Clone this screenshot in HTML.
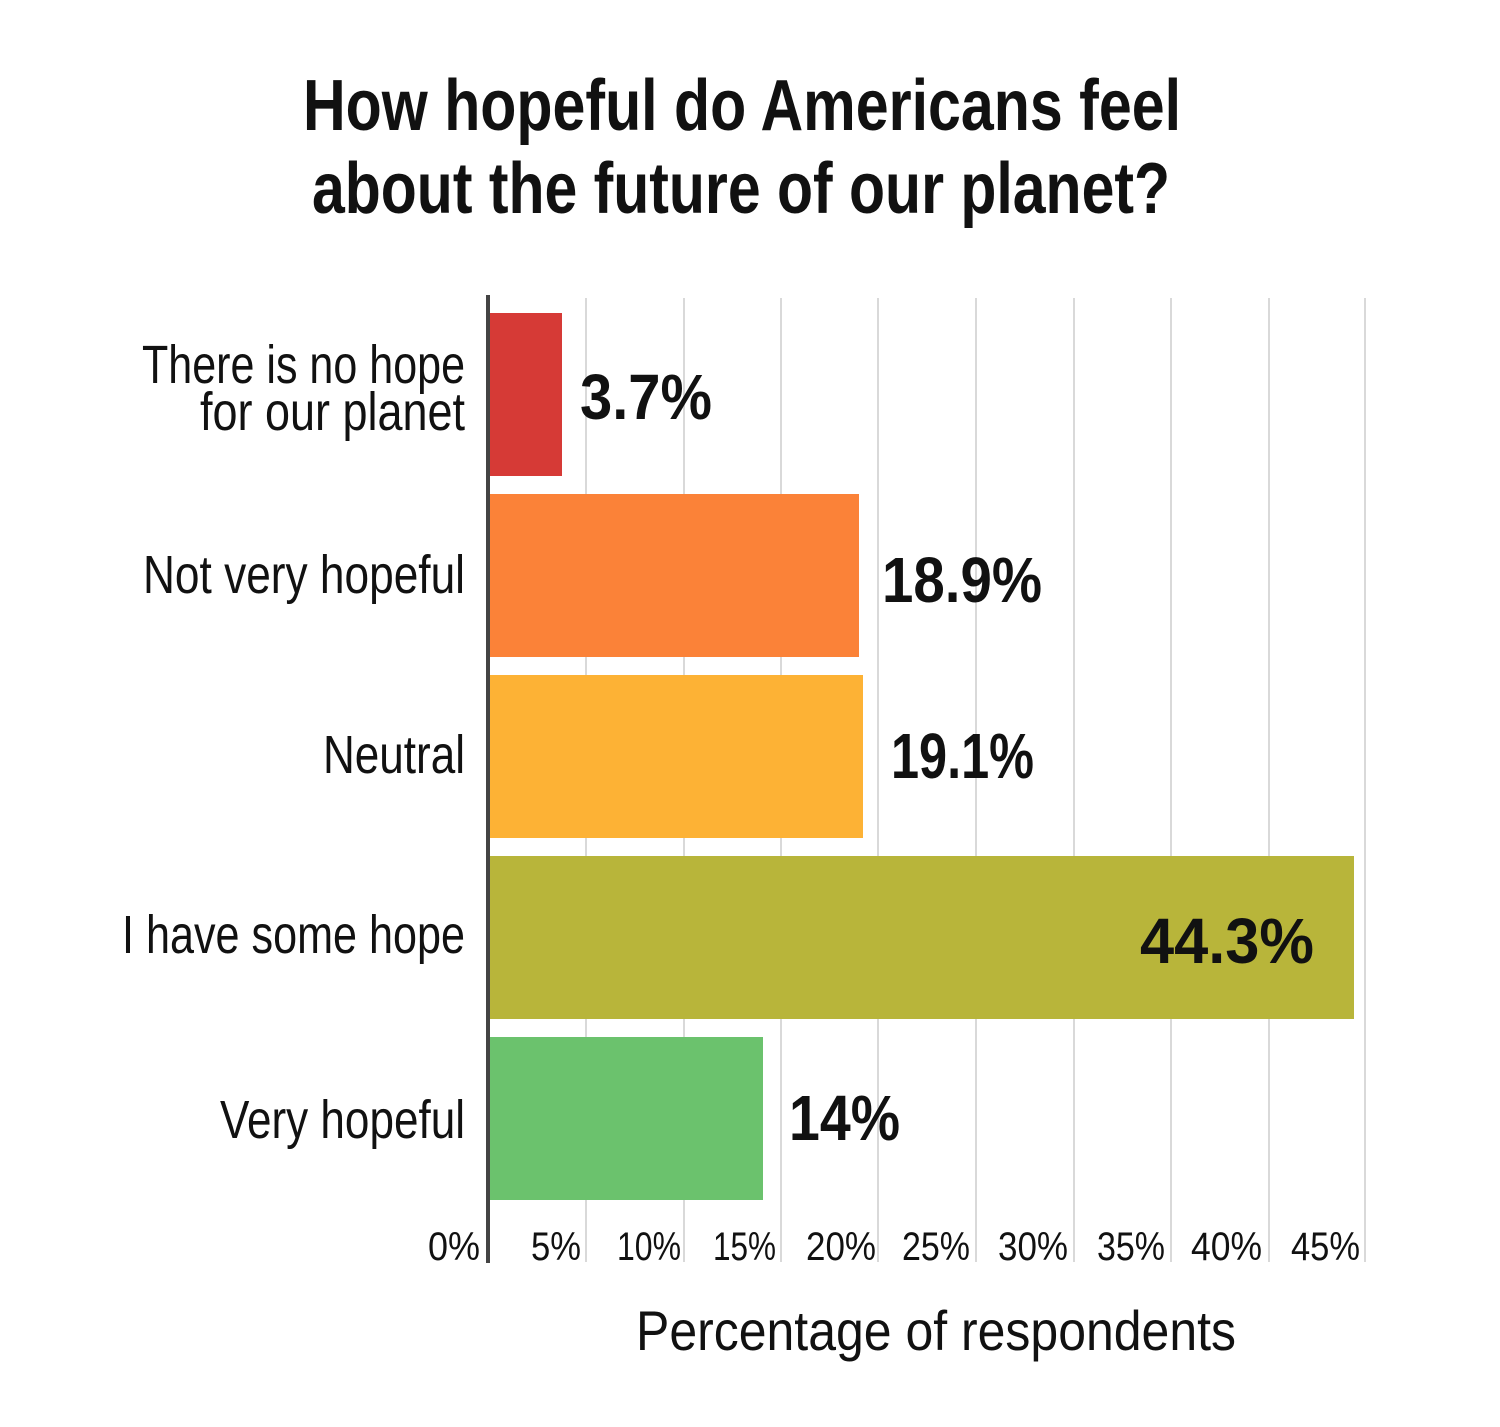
<!DOCTYPE html>
<html><head><meta charset="utf-8"><style>
html,body{margin:0;padding:0;background:#fff;}
svg{display:block;}
text{font-family:"Liberation Sans",sans-serif;fill:#111;}
</style></head><body>
<svg width="1500" height="1427" viewBox="0 0 1500 1427" xmlns="http://www.w3.org/2000/svg">
<rect width="1500" height="1427" fill="#fff"/>
<text x="303" y="130" font-size="72" font-weight="bold" textLength="878" lengthAdjust="spacingAndGlyphs">How hopeful do Americans feel</text>
<text x="312" y="213" font-size="72" font-weight="bold" textLength="858" lengthAdjust="spacingAndGlyphs">about the future of our planet?</text>
<g stroke="#d9d9d9" stroke-width="2">
<line x1="586" y1="298" x2="586" y2="1262"/><line x1="684" y1="298" x2="684" y2="1262"/>
<line x1="781" y1="298" x2="781" y2="1262"/><line x1="878" y1="298" x2="878" y2="1262"/>
<line x1="976" y1="298" x2="976" y2="1262"/><line x1="1074" y1="298" x2="1074" y2="1262"/>
<line x1="1171" y1="298" x2="1171" y2="1262"/><line x1="1269" y1="298" x2="1269" y2="1262"/>
<line x1="1365" y1="298" x2="1365" y2="1262"/>
</g>
<rect x="489" y="313" width="73" height="163" fill="#d63a36"/>
<rect x="489" y="494" width="370" height="163" fill="#fb8238"/>
<rect x="489" y="675" width="374" height="163" fill="#fdb235"/>
<rect x="489" y="856" width="865" height="163" fill="#b8b53a"/>
<rect x="489" y="1037" width="274" height="163" fill="#6bc26d"/>
<line x1="488" y1="295" x2="488" y2="1263" stroke="#444" stroke-width="4"/>
<g font-size="54">
<text x="142" y="383" textLength="323" lengthAdjust="spacingAndGlyphs">There is no hope</text>
<text x="200" y="430" textLength="265" lengthAdjust="spacingAndGlyphs">for our planet</text>
<text x="143" y="593" textLength="322" lengthAdjust="spacingAndGlyphs">Not very hopeful</text>
<text x="323" y="773" textLength="142" lengthAdjust="spacingAndGlyphs">Neutral</text>
<text x="122" y="953" textLength="343" lengthAdjust="spacingAndGlyphs">I have some hope</text>
<text x="220" y="1138" textLength="245" lengthAdjust="spacingAndGlyphs">Very hopeful</text>
</g>
<g font-size="64" font-weight="bold">
<text x="580" y="419" textLength="132" lengthAdjust="spacingAndGlyphs">3.7%</text>
<text x="882" y="602" textLength="160" lengthAdjust="spacingAndGlyphs">18.9%</text>
<text x="891" y="778" textLength="143" lengthAdjust="spacingAndGlyphs">19.1%</text>
<text x="1140" y="963" textLength="174" lengthAdjust="spacingAndGlyphs">44.3%</text>
<text x="789" y="1140" textLength="111" lengthAdjust="spacingAndGlyphs">14%</text>
</g>
<g font-size="40">
<text x="428" y="1260" textLength="52" lengthAdjust="spacingAndGlyphs">0%</text>
<text x="531" y="1260" textLength="50" lengthAdjust="spacingAndGlyphs">5%</text>
<text x="617" y="1260" textLength="64" lengthAdjust="spacingAndGlyphs">10%</text>
<text x="713" y="1260" textLength="63" lengthAdjust="spacingAndGlyphs">15%</text>
<text x="806" y="1260" textLength="70" lengthAdjust="spacingAndGlyphs">20%</text>
<text x="902" y="1260" textLength="68" lengthAdjust="spacingAndGlyphs">25%</text>
<text x="998" y="1260" textLength="70" lengthAdjust="spacingAndGlyphs">30%</text>
<text x="1097" y="1260" textLength="68" lengthAdjust="spacingAndGlyphs">35%</text>
<text x="1191" y="1260" textLength="71" lengthAdjust="spacingAndGlyphs">40%</text>
<text x="1291" y="1260" textLength="69" lengthAdjust="spacingAndGlyphs">45%</text>
</g>
<text x="636" y="1350" font-size="56" textLength="600" lengthAdjust="spacingAndGlyphs">Percentage of respondents</text>
</svg>
</body></html>
